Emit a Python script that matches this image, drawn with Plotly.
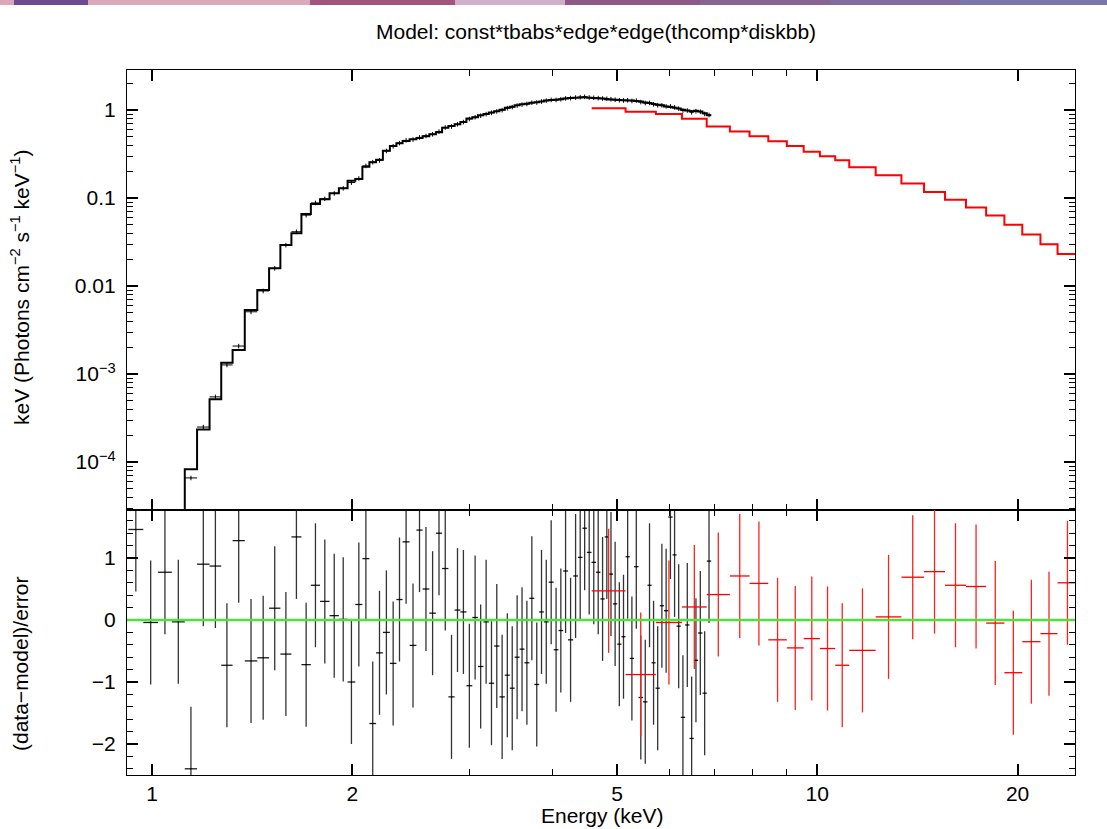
import numpy as np
import plotly.graph_objects as go
from plotly.subplots import make_subplots

# black spectrum (XIS-like), bin edges in keV
blk_edges = [0.9212, 0.9703, 1.0210, 1.0710, 1.1200, 1.1687, 1.2203, 1.2706, 1.3216, 1.3785,
             1.4395, 1.4995, 1.5593, 1.6200, 1.6771, 1.7327, 1.7888, 1.8487, 1.9092, 1.9676,
             2.0208, 2.0711, 2.1219, 2.1717, 2.2234, 2.2780, 2.3299, 2.3804, 2.4388, 2.4969,
             2.5511, 2.6109, 2.6712, 2.7292, 2.7893, 2.8498, 2.9076, 2.9687, 3.0300, 3.0893,
             3.1487, 3.2082, 3.2676, 3.3281, 3.3909, 3.4501, 3.5079, 3.5692, 3.6291, 3.6912,
             3.7557, 3.8187, 3.8814, 3.9465, 4.0155, 4.0828, 4.1498, 4.2194, 4.2960, 4.3680,
             4.4352, 4.5049, 4.5773, 4.6493, 4.7207, 4.7915, 4.8618, 4.9313, 5.0036, 5.0770,
             5.1497, 5.2251, 5.3035, 5.3868, 5.4715, 5.5555, 5.6350, 5.7137, 5.7974, 5.8823,
             5.9705, 6.0601, 6.1446, 6.2346, 6.3281, 6.4254, 6.5219, 6.6198, 6.7215, 6.8224,
             6.9273]
blk_model = [1.0e-6, 3.5e-6, 9.0e-6, 2.2e-5, 8.26e-5, 2.35e-4, 5.16e-4, 1.34e-3, 1.87e-3, 5.34e-3,
             9.0e-3, 0.0159, 0.0292, 0.0397, 0.0658, 0.0855, 0.0967, 0.113, 0.129, 0.157,
             0.165, 0.227, 0.255, 0.272, 0.345, 0.390, 0.42, 0.445, 0.465, 0.48,
             0.505, 0.53, 0.56, 0.63, 0.66, 0.69, 0.73, 0.80, 0.83, 0.87,
             0.90, 0.94, 0.97, 1.01, 1.06, 1.09, 1.13, 1.16, 1.18, 1.21,
             1.23, 1.25, 1.28, 1.30, 1.31, 1.33, 1.35, 1.37, 1.38, 1.39,
             1.40, 1.38, 1.37, 1.36, 1.35, 1.33, 1.32, 1.31, 1.30, 1.29,
             1.28, 1.28, 1.27, 1.25, 1.22, 1.20, 1.17, 1.15, 1.13, 1.10,
             1.08, 1.06, 1.04, 1.01, 0.99, 0.97, 0.98, 0.96, 0.92, 0.87]
blk_data = [1.0e-6, 3.0e-6, 8.5e-6, 2.2e-5, 6.6e-5, 2.5e-4, 5.5e-4, 1.27e-3, 2.08e-3, 5.1e-3,
            8.8e-3, 0.0159, 0.0292, 0.0414, 0.064, 0.088, 0.098, 0.113, 0.129, 0.150,
            0.167, 0.232, 0.256, 0.268, 0.343, 0.388, 0.422, 0.452, 0.463, 0.489,
            0.508, 0.531, 0.569, 0.635, 0.652, 0.691, 0.731, 0.792, 0.830, 0.864,
            0.900, 0.931, 0.966, 0.999, 1.052, 1.080, 1.125, 1.156, 1.174, 1.213,
            1.220, 1.251, 1.280, 1.306, 1.305, 1.328, 1.358, 1.367, 1.387, 1.400,
            1.415, 1.391, 1.380, 1.368, 1.354, 1.345, 1.328, 1.313, 1.295, 1.287,
            1.293, 1.272, 1.281, 1.234, 1.204, 1.207, 1.162, 1.137, 1.133, 1.102,
            1.102, 1.073, 1.039, 0.990, 0.989, 0.945, 0.971, 0.957, 0.906, 0.881]
blk_resid = [1.46, -0.04, 0.77, -0.03, -2.40, 0.90, 0.87, -0.73, 1.28, -0.66,
             -0.61, 0.19, -0.55, 1.34, -0.72, 0.56, 0.30, 0.07, 0.01, -1.00,
             0.25, 0.99, -1.67, -0.53, -0.20, -0.70, 0.33, 1.26, -0.41, 1.45,
             0.50, 0.11, 1.40, 0.83, -1.24, 0.16, 0.13, -1.06, 0.04, -0.75,
             -0.03, -1.02, -0.42, -1.24, -0.89, -1.10, -0.60, -0.47, -0.69, 0.35,
             -1.04, 0.13, -0.03, 0.61, -0.48, -0.17, 0.79, -0.32, 0.71, 1.01,
             1.48, 1.09, 0.93, 0.77, 0.34, 1.34, 0.74, 0.26, -0.39, -0.27,
             1.02, -0.62, 0.86, -1.25, -1.32, 0.56, -0.69, -1.10, 0.23, 0.15,
             1.66, 1.05, -0.10, -1.57, -0.08, -1.91, -0.65, -0.21, -1.18, 0.95]

# red spectrum (hard band)
red_edges = [4.58, 5.15, 5.72, 6.26, 6.82, 7.39, 7.91, 8.44, 9.00, 9.54, 10.09, 10.64,
             11.17, 12.24, 13.38, 14.47, 15.56, 16.73, 17.94, 19.11, 20.33, 21.65, 22.97, 24.6]
red_model = [1.045, 0.955, 0.90, 0.795, 0.652, 0.571, 0.505, 0.443, 0.389, 0.335, 0.299, 0.269,
             0.224, 0.182, 0.146, 0.117, 0.0957, 0.0782, 0.0634, 0.0496, 0.0385, 0.0299, 0.0232]
red_resid = [0.47, -0.88, -0.04, 0.21, 0.41, 0.71, 0.59, -0.32, -0.45, -0.30, -0.46, -0.73,
             -0.49, 0.05, 0.69, 0.78, 0.56, 0.54, -0.05, -0.85, -0.35, -0.22, 0.60]

title_text = "Model: const*tbabs*edge*edge(thcomp*diskbb)"
FONT = "Liberation Sans, Arial, Helvetica, sans-serif"
FS = 21


def bins(edges):
    lo = np.array(edges[:-1])
    hi = np.array(edges[1:])
    c = np.sqrt(lo * hi)
    return c, hi - c, c - lo


fig = make_subplots(rows=2, cols=1, shared_xaxes=True, vertical_spacing=0,
                    row_heights=[440 / 705, 265 / 705])

bc, bplus, bminus = bins(blk_edges)
rc, rplus, rminus = bins(red_edges)

# top panel: data crosses + folded model steps
fig.add_trace(go.Scatter(
    x=bc, y=blk_data, mode='markers', marker=dict(size=1, color='black'),
    error_x=dict(type='data', symmetric=False, array=bplus, arrayminus=bminus,
                 width=0, thickness=1, color='black'),
    error_y=dict(type='percent', value=6, width=0, thickness=1, color='black'),
    showlegend=False), row=1, col=1)
fig.add_trace(go.Scatter(
    x=blk_edges, y=blk_model + blk_model[-1:], mode='lines', line_shape='hv',
    line=dict(color='black', width=2), showlegend=False), row=1, col=1)
fig.add_trace(go.Scatter(
    x=red_edges, y=red_model + red_model[-1:], mode='lines', line_shape='hv',
    line=dict(color='#ff0000', width=2), showlegend=False), row=1, col=1)

# bottom panel: residuals in sigma
fig.add_trace(go.Scatter(
    x=bc, y=blk_resid, mode='markers', marker=dict(size=1, color='black'),
    error_x=dict(type='data', symmetric=False, array=bplus, arrayminus=bminus,
                 width=0, thickness=1.3, color='rgba(0,0,0,0.9)'),
    error_y=dict(type='constant', value=1, width=0, thickness=1.3, color='rgba(0,0,0,0.8)'),
    showlegend=False), row=2, col=1)
fig.add_trace(go.Scatter(
    x=rc, y=red_resid, mode='markers', marker=dict(size=1, color='red'),
    error_x=dict(type='data', symmetric=False, array=rplus, arrayminus=rminus,
                 width=0, thickness=1.3, color='#ff0000'),
    error_y=dict(type='constant', value=1, width=0, thickness=1.3, color='#ff2020'),
    showlegend=False), row=2, col=1)

fig.add_shape(type='line', xref='x2 domain', yref='y2', x0=0, x1=1, y0=0, y1=0,
              line=dict(color='rgb(80,225,60)', width=2.5))

xminor = [3, 4, 6, 7, 8, 9]
axis_common = dict(showline=True, linecolor='black', linewidth=1.2, mirror='allticks',
                   ticks='inside', tickcolor='black', tickwidth=1.5, showgrid=False,
                   zeroline=False, tickfont=dict(family=FONT, size=FS, color='black'))
fig.update_xaxes(type='log', range=[np.log10(0.917), np.log10(24.4)],
                 tickvals=[1, 2, 5, 10, 20], ticktext=['1', '2', '5', '10', '20'], ticklen=11,
                 minor=dict(tickvals=xminor, ticks='inside', ticklen=6, tickcolor='black', tickwidth=1),
                 **axis_common)
fig.update_xaxes(showticklabels=False, row=1, col=1)

ydec = [1e-4, 1e-3, 0.01, 0.1, 1]
yminor = [m * d for d in [1e-5, 1e-4, 1e-3, 0.01, 0.1, 1] for m in range(2, 10)]
fig.update_yaxes(type='log', range=[-4.545, 0.455], tickvals=ydec,
                 ticktext=['10<sup>\u22124</sup>', '10<sup>\u22123</sup>', '0.01', '0.1', '1'],
                 ticklen=11, ticklabelstandoff=6,
                 minor=dict(tickvals=yminor, ticks='inside', ticklen=6, tickcolor='black', tickwidth=1),
                 row=1, col=1, **axis_common)
fig.update_yaxes(range=[-2.5, 1.774], tickvals=[-2, -1, 0, 1],
                 ticktext=['\u22122', '\u22121', '0', '1'], ticklen=11, ticklabelstandoff=6,
                 minor=dict(dtick=0.2, ticks='inside', ticklen=6, tickcolor='black', tickwidth=1),
                 row=2, col=1, **axis_common)

# faint banner strip across the very top of the page
band = [(0, 14, '#dca6b7'), (14, 88, '#6c4a92'), (88, 310, '#dba9ba'), (310, 455, '#a3547c'),
        (455, 565, '#cfb0c6'), (565, 700, '#8d5a88'), (700, 830, '#876492'), (830, 960, '#806d9e'),
        (960, 1107, '#7879aa')]
for x0, x1, col in band:
    fig.add_shape(type='rect', xref='paper', yref='paper', layer='above',
                  x0=(x0 - 127) / 948, x1=(x1 - 127) / 948,
                  y0=(775 - 5) / 705, y1=(775 + 1) / 705, line=dict(width=0), fillcolor=col)


def label(text, px, py, angle=0):
    fig.add_annotation(text=text, xref='paper', yref='paper',
                       x=(px - 127) / 948, y=(775 - py) / 705,
                       xanchor='center', yanchor='middle', textangle=angle, showarrow=False,
                       font=dict(family=FONT, size=FS, color='black'))


label(title_text, 596, 31)
label('Energy (keV)', 602, 815)
label('keV (Photons cm<sup>\u22122</sup> s<sup>\u22121</sup> keV<sup>\u22121</sup>)', 20, 287, -90)
label('(data\u2212model)/error', 20, 664, -90)

fig.update_layout(width=1107, height=829, margin=dict(l=127, r=32, t=70, b=54),
                  paper_bgcolor='white', plot_bgcolor='white', template='none',
                  showlegend=False)

fig.write_html("out.html", config={'displayModeBar': False},
               post_script="document.body.style.margin='0';")
